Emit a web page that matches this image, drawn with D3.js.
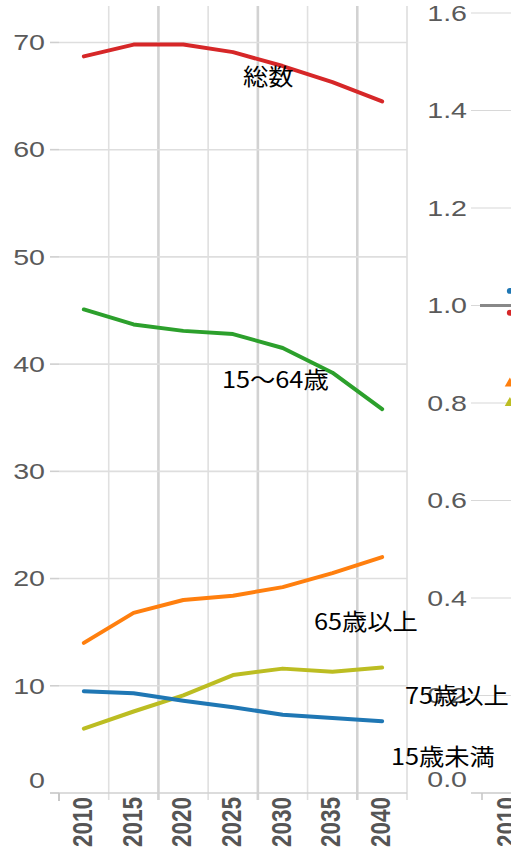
<!DOCTYPE html>
<html><head><meta charset="utf-8">
<script src="https://cdn.jsdelivr.net/npm/d3@7"></script>
<style>
html,body{margin:0;padding:0;background:#fff;overflow:hidden}
svg{display:block}
</style></head>
<body>
<svg id="c" width="511" height="850"></svg>
<script>
// ---- data ----
const years = [2010, 2015, 2020, 2025, 2030, 2035, 2040];
const seriesNames = ["総数", "15〜64歳", "65歳以上", "75歳以上", "15歳未満"];
const total      = [68.7, 69.8, 69.8, 69.1, 67.8, 66.3, 64.5];
const working    = [45.1, 43.7, 43.1, 42.8, 41.5, 39.2, 35.8];
const over65     = [14.0, 16.8, 18.0, 18.4, 19.2, 20.5, 22.0];
const over75     = [6.0, 7.6, 9.1, 11.0, 11.6, 11.3, 11.7];
const under15    = [9.5, 9.3, 8.6, 8.0, 7.3, 7.0, 6.7];
const leftTicks  = [0, 10, 20, 30, 40, 50, 60, 70];
const rightTicks = [0, 0.2, 0.4, 0.6, 0.8, 1.0, 1.2, 1.4, 1.6];
const refValue   = 1.0;
const indexNames = ["15歳未満", "総数", "65歳以上", "75歳以上"];
const index2010  = [1.03, 0.985, 0.84, 0.80];

// ---- layout ----
const svg = d3.select("#c");
const cat = d3.schemeCategory10;
const colors = [cat[3], cat[2], cat[1], cat[8], cat[0]];
const idxColors = [cat[0], cat[3], cat[1], cat[8]];
const idxShapes = [d3.symbolCircle, d3.symbolCircle, d3.symbolTriangle, d3.symbolTriangle];

const x = d3.scaleBand().domain(years).range([59, 407]).padding(0);
const y = d3.scaleLinear().domain([0, 73.4]).range([793, 6]);
const x2 = d3.scaleBand().domain(years).range([482, 830]).padding(0);
const y2 = d3.scaleLinear().domain([0, 1.6]).range([793, 13]);

const g = svg.append("g");

// vertical gridlines (band boundaries)
years.forEach((yr, i) => {
  if (i === 0) return;
  const xv = x(yr);
  g.append("line").attr("x1", xv).attr("x2", xv).attr("y1", 6).attr("y2", 800)
    .attr("stroke", i % 2 === 0 ? "#d2d2d2" : "#e0e0e0")
    .attr("stroke-width", i % 2 === 0 ? 2.6 : 1.6);
});
// right border of left panel
g.append("line").attr("x1", 407).attr("x2", 407).attr("y1", 6).attr("y2", 800)
  .attr("stroke", "#dedede").attr("stroke-width", 1.6);

// horizontal gridlines + left axis
leftTicks.forEach(t => {
  const yv = y(t);
  if (t > 0) {
    g.append("line").attr("x1", 59).attr("x2", 407).attr("y1", yv).attr("y2", yv)
      .attr("stroke", "#dedede").attr("stroke-width", 1.6);
  }
  g.append("line").attr("x1", 50).attr("x2", 59).attr("y1", yv).attr("y2", yv)
    .attr("stroke", "#cfcfcf").attr("stroke-width", 1.6);
  g.append("text")
    .attr("transform", `translate(45,${yv + (t === 0 ? -13 : 0)}) scale(1.3,1)`)
    .attr("text-anchor", "end").attr("dominant-baseline", "central")
    .attr("font-family", "Liberation Sans, Arial, sans-serif").attr("font-size", 22)
    .attr("fill", "#5a5a5a").text(t);
});
// bottom axis line
g.append("line").attr("x1", 50).attr("x2", 407).attr("y1", 793).attr("y2", 793)
  .attr("stroke", "#d0d0d0").attr("stroke-width", 1.6);
g.append("line").attr("x1", 59).attr("x2", 59).attr("y1", 793).attr("y2", 801)
  .attr("stroke", "#c8c8c8").attr("stroke-width", 2);

// x labels
years.forEach(yr => {
  const cx = x(yr) + x.bandwidth() / 2 - 2;
  g.append("text")
    .attr("transform", `translate(${cx},797) rotate(-90) scale(1,1.25)`)
    .attr("text-anchor", "end").attr("dominant-baseline", "central")
    .attr("font-family", "Liberation Sans, Arial, sans-serif").attr("font-size", 22.5)
    .attr("font-weight", "bold").attr("fill", "#555").text(yr);
});

// lines
const allSeries = [total, working, over65, over75, under15];
const line = d3.line()
  .x((d, i) => x(years[i]) + x.bandwidth() / 2)
  .y(d => y(d));
allSeries.forEach((s, k) => {
  g.append("path").attr("d", line(s)).attr("fill", "none")
    .attr("stroke", colors[k]).attr("stroke-width", 4)
    .attr("stroke-linejoin", "round").attr("stroke-linecap", "round");
});

// right panel
rightTicks.forEach(t => {
  const yv = y2(t);
  g.append("line").attr("x1", 471).attr("x2", 511).attr("y1", yv).attr("y2", yv)
    .attr("stroke", "#d8d8d8").attr("stroke-width", 1.2);
  g.append("text")
    .attr("transform", `translate(467,${yv + (t === 0 ? -14 : 0)}) scale(1.3,1)`)
    .attr("text-anchor", "end").attr("dominant-baseline", "central")
    .attr("font-family", "Liberation Sans, Arial, sans-serif").attr("font-size", 22)
    .attr("fill", "#5a5a5a").text(d3.format(".1f")(t));
});
g.append("line").attr("x1", 471).attr("x2", 511).attr("y1", y2(0)).attr("y2", y2(0))
  .attr("stroke", "#d0d0d0").attr("stroke-width", 1.4);
g.append("line").attr("x1", 482).attr("x2", 482).attr("y1", 793).attr("y2", 800)
  .attr("stroke", "#c8c8c8").attr("stroke-width", 1.6);
g.append("line").attr("x1", 480).attr("x2", 511).attr("y1", y2(refValue)).attr("y2", y2(refValue))
  .attr("stroke", "#888").attr("stroke-width", 3);
index2010.forEach((v, k) => {
  g.append("path")
    .attr("d", d3.symbol().type(idxShapes[k]).size(idxShapes[k] === d3.symbolCircle ? 28 : 45)())
    .attr("transform", `translate(${x2(2010) + x2.bandwidth() / 2 + 3},${y2(v)})`)
    .attr("fill", idxColors[k]);
});
g.append("text")
  .attr("transform", `translate(${x2(2010) + x2.bandwidth() / 2 - 1},797) rotate(-90) scale(1,1.25)`)
  .attr("text-anchor", "end").attr("dominant-baseline", "central")
  .attr("font-family", "Liberation Sans, Arial, sans-serif").attr("font-size", 22.5)
  .attr("font-weight", "bold").attr("fill", "#555").text(2010);

// series labels
const labelPos = [[243, 75.5], [222, 378], [314, 620], [405, 694], [391, 755]];
seriesNames.forEach((n, k) => {
  g.append("text").attr("x", labelPos[k][0]).attr("y", labelPos[k][1])
    .attr("dominant-baseline", "central")
    .attr("font-family", "Noto Sans CJK JP, sans-serif").attr("font-size", 23)
    .attr("fill", "#000").attr("transform", `translate(${labelPos[k][0]},0) scale(1.1,1) translate(${-labelPos[k][0]},0)`)
    .text(n);
});
</script>
</body></html>
